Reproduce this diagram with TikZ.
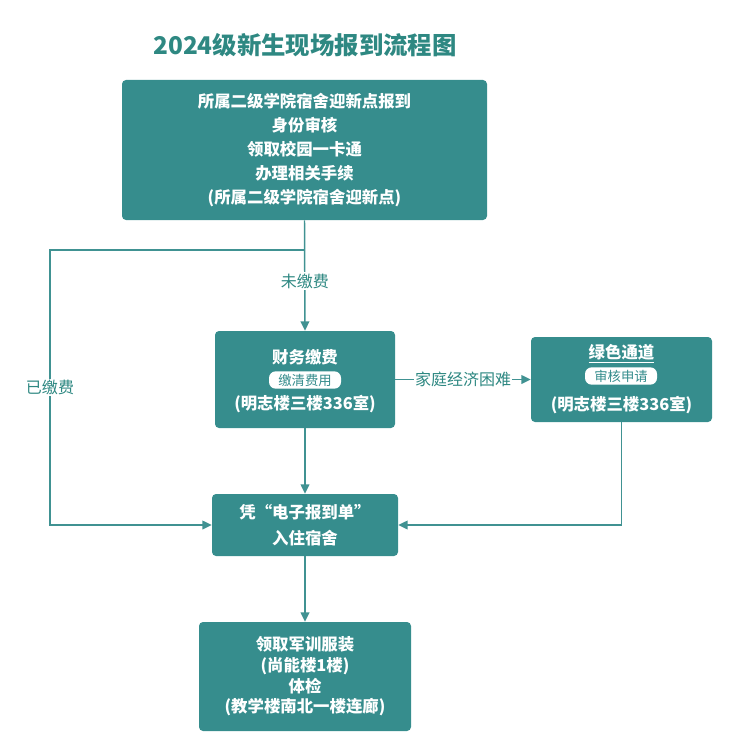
\documentclass[tikz,border=0pt]{standalone}
\usepackage{fontspec}
\setmainfont{Noto Sans CJK SC}
\usetikzlibrary{arrows.meta,positioning,calc}
\definecolor{boxteal}{HTML}{368D8D}
\definecolor{lineteal}{HTML}{409292}
\definecolor{textteal}{HTML}{2E8882}

\begin{document}
\begin{tikzpicture}[x=0.75pt, y=-0.75pt, >={Triangle[length=7pt,width=6.5pt]}]
        \tikzset{
            stage/.style={fill=boxteal, rectangle, rounded corners=3pt, text=white, align=center, inner sep=0pt, font=\fontsize{12.3}{18}\selectfont\bfseries},
            tag/.style={fill=white, rectangle, rounded corners=5pt, text=boxteal, minimum width=54pt, minimum height=13pt, inner sep=0pt, font=\fontsize{10}{11}\selectfont},
            label/.style={text=white, inner sep=0pt, font=\fontsize{12.3}{14}\selectfont\bfseries},
            io/.style={fill=white, text=textteal, inner sep=1pt, font=\fontsize{12}{13}\selectfont},
            line/.style={draw=lineteal, line width=1.1pt, ->}
        }
        \useasboundingbox (0,0) rectangle (736,756);

        % Title
        \node [text=textteal, font=\fontsize{18.3}{20}\selectfont\bfseries] (title) at (305,45) {2024级新生现场报到流程图};

        % Check-in at the college
        \node [stage, minimum width=273.75pt, minimum height=105pt] (checkin) at (304.5,150)
            {所属二级学院宿舍迎新点报到\\身份审核\\领取校园一卡通\\办理相关手续\\(所属二级学院宿舍迎新点)};

        % Payment
        \node [stage, minimum width=135pt, minimum height=72.75pt] (pay) at (305,379.5) {};
        \node [label] (pay-title) at (305,357) {财务缴费};
        \node [tag] (pay-tag) at (305,380) {缴清费用};
        \node [label] (pay-room) at (305,404) {(明志楼三楼336室)};

        % Green channel
        \node [stage, minimum width=135.75pt, minimum height=63.75pt] (green) at (621.5,379.5) {};
        \node [label] (green-title) at (621.5,354) {\underline{绿色通道}};
        \node [tag] (green-tag) at (621,376) {审核申请};
        \node [label] (green-room) at (621.5,405) {(明志楼三楼336室)};

        % Dormitory
        \node [stage, minimum width=139.5pt, minimum height=46.5pt, font=\fontsize{12.3}{20}\selectfont\bfseries] (dorm) at (305,525)
            {凭“电子报到单”\\入住宿舍};

        % Uniform and medical check
        \node [stage, minimum width=159pt, minimum height=81.75pt, font=\fontsize{12.3}{15.5}\selectfont\bfseries] (gear) at (305,676.5)
            {领取军训服装\\(尚能楼1楼)\\体检\\(教学楼南北一楼连廊)};

        % Connections
        \coordinate (split) at (305,250);
        \coordinate (paid) at (50,525);
        \draw [line] (checkin.south) -- node[io, pos=0.55] {未缴费} (pay.north);
        \draw [line] (split) -| node[io, pos=0.75] {已缴费} (paid) -- (dorm.west);
        \draw [line] (pay.east) -- node[io] {家庭经济困难} (green.west);
        \draw [line] (green.south) |- (dorm.east);
        \draw [line] (pay.south) -- (dorm.north);
        \draw [line] (dorm.south) -- (gear.north);

    \end{tikzpicture}
\end{document}
